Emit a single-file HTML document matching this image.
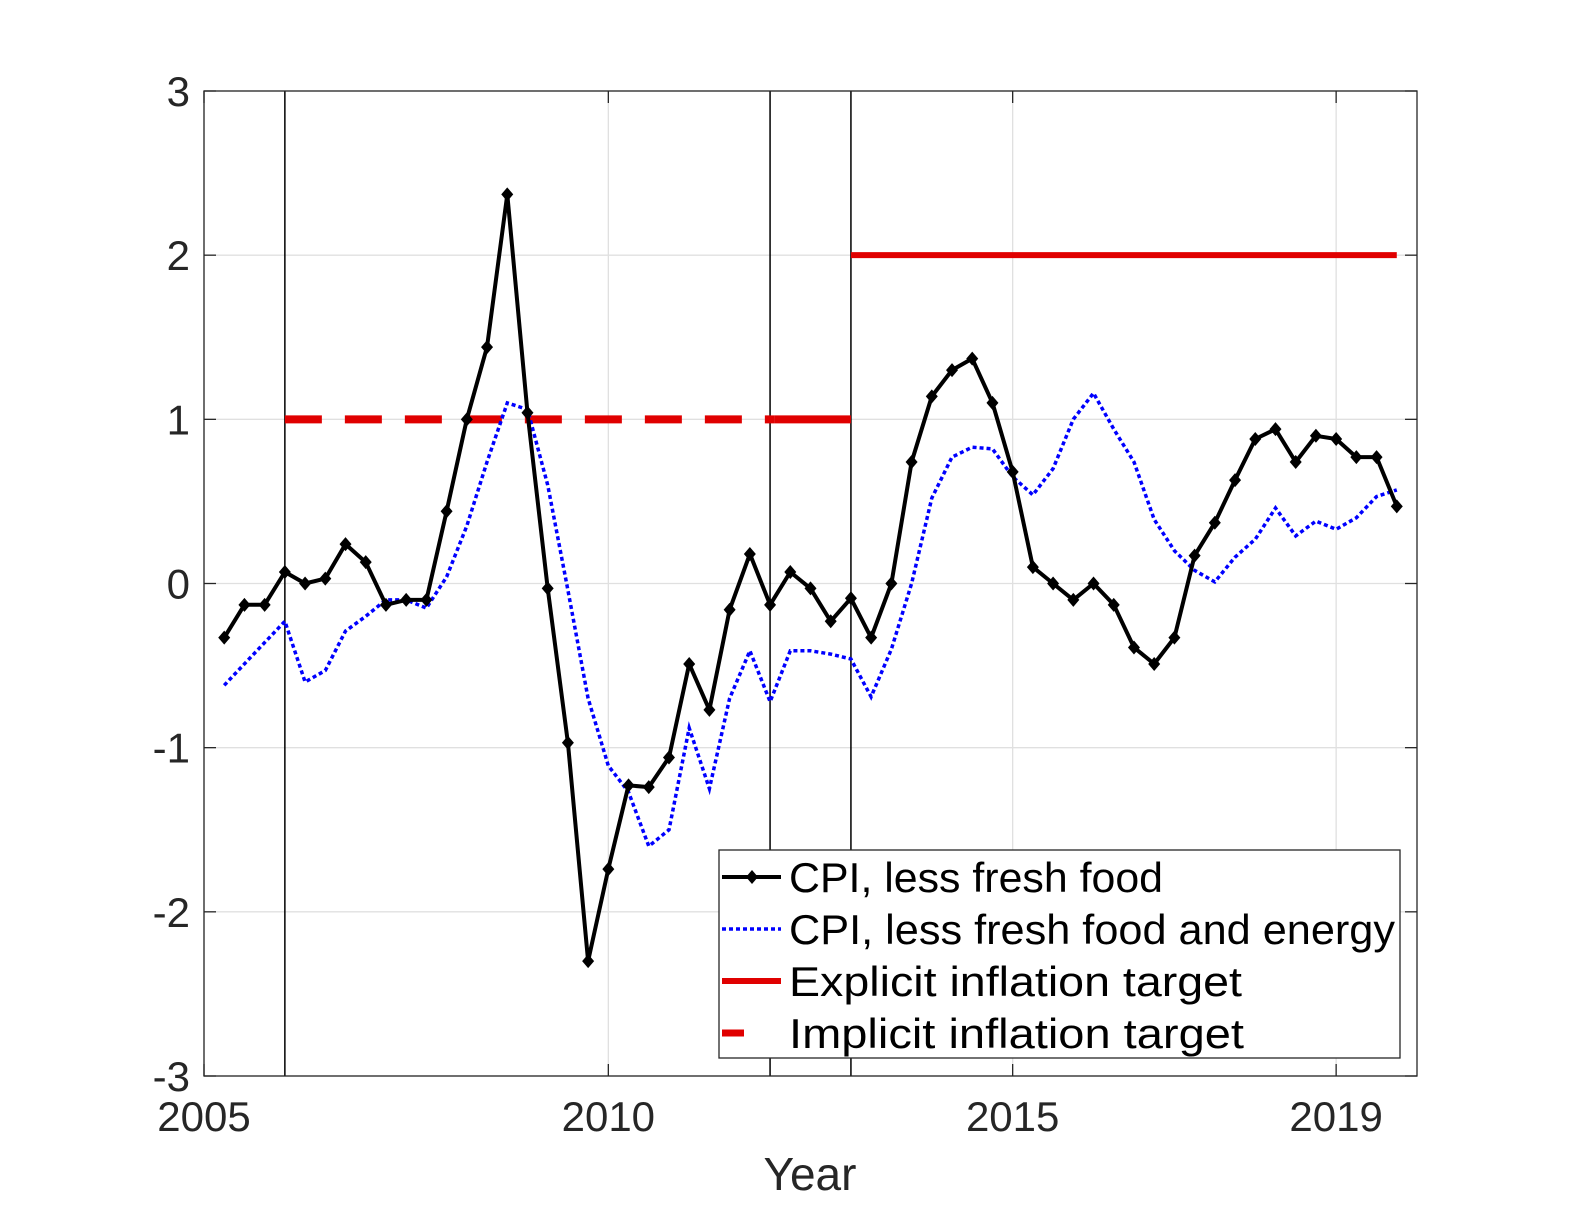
<!DOCTYPE html>
<html><head><meta charset="utf-8"><style>
html,body{margin:0;padding:0;background:#fff;}
svg{display:block;font-family:"Liberation Sans",sans-serif;}
</style></head><body>
<svg id="chart" width="1586" height="1224" viewBox="0 0 1586 1224" xmlns="http://www.w3.org/2000/svg"></svg>
<script>
const cpiLessFreshFood = [-0.33,-0.13,-0.13,0.07,0.0,0.03,0.24,0.13,-0.13,-0.1,-0.1,0.44,1.0,1.44,2.37,1.04,-0.03,-0.97,-2.3,-1.74,-1.23,-1.24,-1.06,-0.49,-0.77,-0.16,0.18,-0.13,0.07,-0.03,-0.23,-0.09,-0.33,0.0,0.74,1.14,1.30,1.37,1.1,0.68,0.1,0.0,-0.1,0.0,-0.13,-0.39,-0.49,-0.33,0.17,0.37,0.63,0.88,0.94,0.74,0.90,0.88,0.77,0.77,0.47];
const cpiLessFoodEnergy = [-0.62,-0.49,-0.36,-0.23,-0.6,-0.53,-0.29,-0.2,-0.1,-0.1,-0.15,0.04,0.35,0.74,1.1,1.06,0.6,-0.04,-0.7,-1.11,-1.27,-1.6,-1.5,-0.88,-1.25,-0.7,-0.41,-0.72,-0.41,-0.41,-0.43,-0.46,-0.69,-0.4,0.0,0.52,0.77,0.83,0.82,0.65,0.54,0.7,1.0,1.16,0.94,0.74,0.39,0.2,0.08,0.01,0.16,0.27,0.46,0.29,0.38,0.33,0.4,0.53,0.57];
const startYear = 2005.25;
const xTicks = [2005,2010,2015,2019];
const yTicks = [-3,-2,-1,0,1,2,3];
const regimeYears = [2006,2012,2013];
const implicitTarget = {from:2006, to:2013, solidFrom:2012.05, value:1};
const explicitTarget = {from:2013, to:2019.75, value:2};
const legendLabels = ["CPI, less fresh food","CPI, less fresh food and energy","Explicit inflation target","Implicit inflation target"];

const L=204,R=1417,T=91,B=1076;
const xS=y=>L+(y-2005)*(R-L)/15;
const yS=v=>B-(v+3)*(B-T)/6;
const NS="http://www.w3.org/2000/svg";
const svg=document.getElementById('chart');
function mk(tag,attrs,parent){const e=document.createElementNS(NS,tag);for(const k in attrs)e.setAttribute(k,attrs[k]);(parent||svg).appendChild(e);return e;}

xTicks.forEach(t=>{const g=mk('line',{x1:xS(t),x2:xS(t),y1:T,y2:B,stroke:'#e0e0e0','stroke-width':1.3});

});
yTicks.forEach(t=>{const g=mk('line',{x1:L,x2:R,y1:yS(t),y2:yS(t),stroke:'#e0e0e0','stroke-width':1.3});

});
regimeYears.forEach(y=>{const l=mk('line',{x1:xS(y),x2:xS(y),y1:T,y2:B,stroke:'#000','stroke-width':1.5});

});
let it=mk('line',{x1:xS(implicitTarget.from),x2:xS(implicitTarget.solidFrom),y1:yS(implicitTarget.value),y2:yS(implicitTarget.value),stroke:'#e00000','stroke-width':8,'stroke-dasharray':'37 23'});


let it2=mk('line',{x1:xS(implicitTarget.solidFrom),x2:xS(implicitTarget.to),y1:yS(implicitTarget.value),y2:yS(implicitTarget.value),stroke:'#e00000','stroke-width':8});


let et=mk('line',{x1:xS(explicitTarget.from),x2:xS(explicitTarget.to),y1:yS(explicitTarget.value),y2:yS(explicitTarget.value),stroke:'#e00000','stroke-width':6});


let pb=cpiLessFoodEnergy.map((v,i)=>xS(startYear+i*0.25).toFixed(1)+','+yS(v).toFixed(1)).join(' ');
let bl=mk('polyline',{points:pb,fill:'none',stroke:'#0000ff','stroke-width':3.5,'stroke-dasharray':'4 3'});


let pk=cpiLessFreshFood.map((v,i)=>xS(startYear+i*0.25).toFixed(1)+','+yS(v).toFixed(1)).join(' ');
let kl=mk('polyline',{points:pk,fill:'none',stroke:'#000','stroke-width':4,'stroke-linejoin':'round'});


cpiLessFreshFood.forEach((v,i)=>{const x=xS(startYear+i*0.25),y=yS(v);
const m=mk('polygon',{points:`${x},${y-7} ${x+6},${y} ${x},${y+7} ${x-6},${y}`,fill:'#000'});

});
let ax=mk('rect',{x:L,y:T,width:R-L,height:B-T,fill:'none',stroke:'#262626','stroke-width':1.3});


xTicks.forEach(t=>{
mk('line',{x1:xS(t),x2:xS(t),y1:B,y2:B-12,stroke:'#262626','stroke-width':1.3});
mk('line',{x1:xS(t),x2:xS(t),y1:T,y2:T+12,stroke:'#262626','stroke-width':1.3});
const tx=mk('text',{x:xS(t),y:1131,'text-anchor':'middle','font-size':42,fill:'#262626'});tx.textContent=t;

});
yTicks.forEach(t=>{
mk('line',{x1:L,x2:L+12,y1:yS(t),y2:yS(t),stroke:'#262626','stroke-width':1.3});
mk('line',{x1:R,x2:R-12,y1:yS(t),y2:yS(t),stroke:'#262626','stroke-width':1.3});
const tx=mk('text',{x:190,y:yS(t)+15,'text-anchor':'end','font-size':42,fill:'#262626'});tx.textContent=t;

});
let xt=mk('text',{x:810,y:1190,'text-anchor':'middle','font-size':46,fill:'#262626'});xt.textContent='Year';


const lg=mk('g',{});


mk('rect',{x:719,y:850,width:681,height:208,fill:'#fff',stroke:'#262626','stroke-width':1.3},lg);
const rowsY=[877,929,981,1033];
const widths=[374,606,453,455];
legendLabels.forEach((lab,i)=>{
const y=rowsY[i];
if(i==0){mk('line',{x1:722,x2:781,y1:y,y2:y,stroke:'#000','stroke-width':4},lg);mk('polygon',{points:`752,${y-7} 758,${y} 752,${y+7} 746,${y}`,fill:'#000'},lg);}
if(i==1)mk('line',{x1:722,x2:781,y1:y,y2:y,stroke:'#0000ff','stroke-width':3.5,'stroke-dasharray':'4 3'},lg);
if(i==2)mk('line',{x1:722,x2:781,y1:y,y2:y,stroke:'#e00000','stroke-width':6},lg);
if(i==3)mk('line',{x1:722,x2:744,y1:y,y2:y,stroke:'#e00000','stroke-width':7},lg);
const tx=mk('text',{x:789,y:y+15,'font-size':42,fill:'#000',textLength:widths[i],lengthAdjust:'spacingAndGlyphs'},lg);tx.textContent=lab;


});
</script>
</body></html>
